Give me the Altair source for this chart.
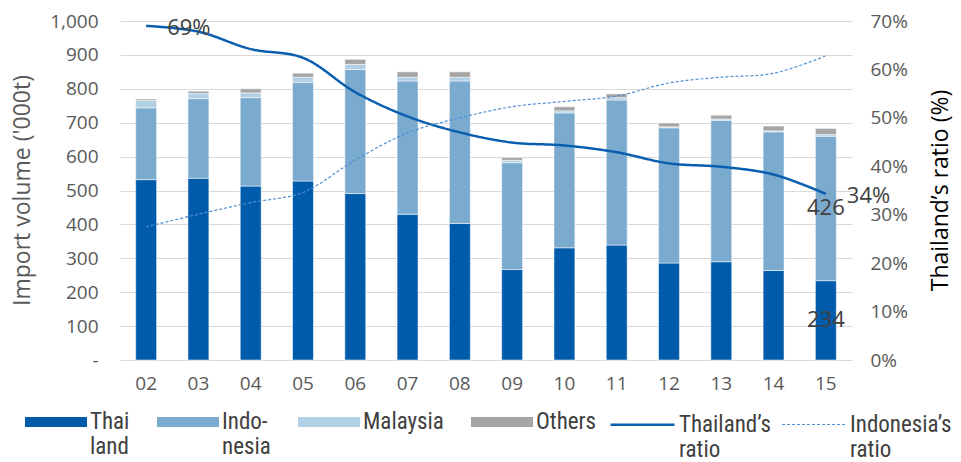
import altair as alt
import pandas as pd

# ---- data ----
years = ["02", "03", "04", "05", "06", "07", "08", "09", "10", "11", "12", "13", "14", "15"]
origins = ["Thailand", "Indonesia", "Malaysia", "Others"]
thailand = [532, 536, 513, 528, 491, 430, 403, 267, 331, 339, 286, 290, 264, 234]
indonesia = [212, 235, 261, 291, 366, 393, 420, 315, 398, 428, 399, 417, 409, 426]
malaysia = [22, 15, 14, 15, 15, 11, 11, 7, 6, 7, 3, 4, 3, 5]
others = [4, 7, 12, 12, 15, 16, 16, 8, 12, 11, 11, 11, 14, 18]
ratio_series = ["Thailand\u2019s ratio", "Indonesia\u2019s ratio"]
thai_ratio = [69.0, 67.8, 64.2, 62.4, 55.3, 50.3, 47.0, 44.9, 44.3, 42.9, 40.6, 39.9, 38.3, 34.3]
indo_ratio = [27.5, 30.1, 32.5, 34.6, 41.3, 46.9, 50.0, 52.3, 53.4, 54.5, 57.2, 58.4, 59.2, 62.8]
left_ticks = [0, 100, 200, 300, 400, 500, 600, 700, 800, 900, 1000]
right_ticks = [0, 0.1, 0.2, 0.3, 0.4, 0.5, 0.6, 0.7]

bar_colors = ["#005BAB", "#7BAACF", "#B1CFE5", "#A5A5A5"]
line_colors = ["#0A5EB0", "#4F8FD3"]

FONT = "Open Sans"
LFONT = "Liberation Sans Narrow, Roboto Condensed, Liberation Sans"

rows = []
for i, y in enumerate(years):
    for rank, (name, vals) in enumerate(zip(origins, [thailand, indonesia, malaysia, others])):
        rows.append({"year": y, "origin": name, "rank": rank, "volume": vals[i]})
df_bars = pd.DataFrame(rows)

rrows = []
for i, y in enumerate(years):
    rrows.append({"year": y, "series": ratio_series[0], "ratio": thai_ratio[i] / 100})
    rrows.append({"year": y, "series": ratio_series[1], "ratio": indo_ratio[i] / 100})
df_ratio = pd.DataFrame(rrows)

x_axis = alt.Axis(title=None, labelAngle=0, labelFontSize=19, labelColor="#595959",
                  labelFont=FONT, labelPadding=14, ticks=False, domain=False, grid=False)
x_scale = alt.Scale(paddingInner=0.6, paddingOuter=0.3)
x_enc = alt.X("year:N", sort=years, scale=x_scale, axis=x_axis)

left_scale = alt.Scale(domain=[0, 1000], nice=False)
left_axis = alt.Axis(
    title="Import volume ('000t)", values=left_ticks, grid=True, gridColor="#D9D9D9",
    ticks=False, domain=False, labelFontSize=19, labelColor="#595959", labelFont=FONT,
    labelPadding=22, labelOverlap=False,
    labelExpr="datum.value == 0 ? '-' : format(datum.value, ',')",
    titleFont=FONT, titleFontSize=23, titleFontWeight="normal", titleColor="#595959",
    titleX=-98, titleY=169, titleAngle=-90, titleAlign="center", titleBaseline="middle",
)

BAR_SYMBOL = "M-1,-0.16L1,-0.16L1,0.16L-1,0.16Z"

bars = alt.Chart(df_bars).mark_bar(stroke="white", strokeWidth=0.5).encode(
    x=x_enc,
    y=alt.Y("volume:Q", stack="zero", scale=left_scale, axis=left_axis),
    fill=alt.Fill(
        "origin:N", sort=origins,
        scale=alt.Scale(domain=origins, range=bar_colors),
        legend=alt.Legend(
            title=None, orient="none", legendX=-95, legendY=370, direction="horizontal",
            symbolType=BAR_SYMBOL, symbolSize=3844, symbolStrokeWidth=0,
            labelFont=LFONT, labelFontSize=23, labelColor="#404040", labelOffset=3,
            labelBaseline="middle", labelLimit=300, columnPadding=27, gridAlign="each",
            labelExpr="datum.label == 'Thailand' ? ['Thai', 'land'] : datum.label == 'Indonesia' ? ['Indo-', 'nesia'] : [datum.label, '']",
        ),
    ),
    order=alt.Order("rank:Q", sort="ascending"),
)

bar_labels = (
    alt.Chart(df_bars)
    .transform_stack(stack="volume", groupby=["year"], as_=["v0", "v1"],
                     sort=[alt.SortField("rank", order="ascending")])
    .transform_calculate(mid="(datum.v0 + datum.v1) / 2")
    .transform_filter("datum.year == '15' && datum.rank <= 1")
    .mark_text(fontSize=22, color="#404040", font=FONT, baseline="middle")
    .encode(
        x=x_enc,
        y=alt.Y("mid:Q", scale=left_scale, axis=left_axis),
        text=alt.Text("volume:Q"),
    )
)

right_axis = alt.Axis(
    orient="right", title="Thailand\u2019s ratio (%)", values=right_ticks, format=".0%",
    grid=False, ticks=False, domain=False, labelFontSize=19, labelColor="#595959",
    labelFont=FONT, labelPadding=18, labelOverlap=False,
    titleFont=FONT, titleFontSize=23, titleFontWeight="normal", titleColor="#000000",
    titleX=88, titleY=169, titleAngle=-90, titleAlign="center", titleBaseline="middle",
)
right_scale = alt.Scale(domain=[0, 0.7], nice=False)

lines = alt.Chart(df_ratio).mark_line(interpolate="catmull-rom").encode(
    x=x_enc,
    y=alt.Y("ratio:Q", scale=right_scale, axis=right_axis),
    stroke=alt.Stroke(
        "series:N", sort=ratio_series,
        scale=alt.Scale(domain=ratio_series, range=line_colors),
        legend=alt.Legend(
            title=None, orient="none", legendX=489, legendY=370, direction="horizontal",
            symbolType="stroke", symbolSize=4096,
            labelFont=LFONT, labelFontSize=23, labelColor="#404040", labelOffset=3,
            labelBaseline="middle", labelLimit=300, columnPadding=8,
            labelExpr="split(datum.label, ' ')",
        ),
    ),
    strokeDash=alt.StrokeDash("series:N", sort=ratio_series,
                              scale=alt.Scale(domain=ratio_series, range=[[1, 0], [3, 2]])),
    strokeWidth=alt.StrokeWidth("series:N", sort=ratio_series,
                                scale=alt.Scale(domain=ratio_series, range=[2.5, 1.2])),
)

pct_labels = (
    alt.Chart(df_ratio)
    .transform_filter("datum.series == '" + ratio_series[0] + "' && (datum.year == '02' || datum.year == '15')")
    .mark_text(align="left", baseline="middle", dx=21, dy=2, fontSize=22, color="#404040", font=FONT)
    .encode(
        x=x_enc,
        y=alt.Y("ratio:Q", scale=right_scale, axis=right_axis),
        text=alt.Text("ratio:Q", format=".0%"),
    )
)

left = alt.layer(bars, bar_labels)
right = alt.layer(lines, pct_labels)

chart = (
    alt.layer(left, right)
    .resolve_scale(y="independent")
    .properties(
        width=732, height=339,
        padding={"left": 120, "top": 21, "right": 109, "bottom": 102},
        autosize=alt.AutoSizeParams(type="none"),
        background="white",
    )
    .configure_view(stroke=None)
)

chart.save("out.html", embed_options={"renderer": "svg", "actions": False})
